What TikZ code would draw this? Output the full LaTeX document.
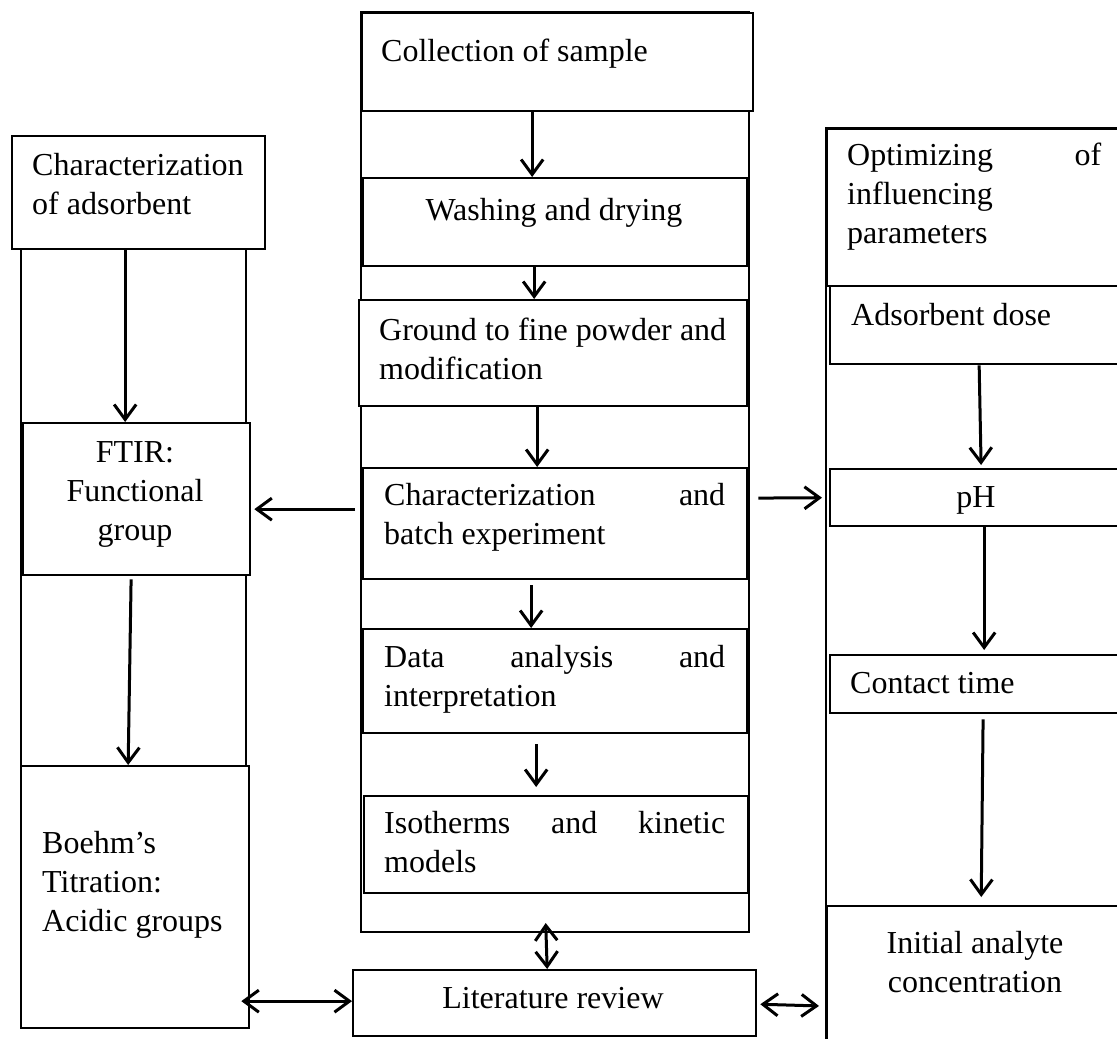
\documentclass[tikz,border=0pt]{standalone}
\usepackage{fontspec}
\setmainfont{Liberation Serif}
\usepackage{tikz}
\usetikzlibrary{arrows.meta}

\tikzset{
  box/.style = {draw, fill=white, line width=2.3pt, anchor=north west, inner sep=0pt},
  txt/.style = {anchor=base west, inner sep=0pt, align=flush left, text width=360pt, font=\fontsize{32}{39}\selectfont},
  ctxt/.style = {txt, anchor=base, align=flush center, text width=300pt},
  arr/.style = {line width=3pt, -{Straight Barb[length=15pt, width=22pt]}},
  darr/.style = {line width=3pt, {Straight Barb[length=15pt, width=22pt]}-{Straight Barb[length=15pt, width=22pt]}}
}

\begin{document}
\begin{tikzpicture}[x=1pt, y=-1pt]
  \useasboundingbox (0,0) rectangle (1117,1039);
  \clip (0,0) rectangle (1117,1039);
  % columns
  \draw [line width=2.3pt] (21,240) rectangle (246,1027);
  \draw [line width=2.3pt] (361,12) rectangle (749,932);
  \draw [line width=2.3pt] (826,128) rectangle (1140,1080);
  % left column
  \node [box, minimum width=253pt, minimum height=113pt] (charad) at (11,135) {};
  \node [box, minimum width=227pt, minimum height=152pt] (ftir) at (22,422) {};
  \node [box, minimum width=228pt, minimum height=262pt] (boehm) at (20,765) {};
  % middle column
  \node [box, minimum width=391pt, minimum height=98pt] (collect) at (361,12) {};
  \node [box, minimum width=384pt, minimum height=88pt] (wash) at (362,177) {};
  \node [box, minimum width=388pt, minimum height=106pt] (ground) at (358,299) {};
  \node [box, minimum width=384pt, minimum height=111pt] (batch) at (362,467) {};
  \node [box, minimum width=384pt, minimum height=104pt] (data) at (362,628) {};
  \node [box, minimum width=384pt, minimum height=97pt] (iso) at (363,795) {};
  \node [box, minimum width=403pt, minimum height=66pt] (lit) at (352,969) {};
  \coordinate (midcol) at (555,932);
  % right column
  \node [box, minimum width=314pt, minimum height=157pt] (optim) at (826,128) {};
  \node [box, minimum width=311pt, minimum height=78pt] (dose) at (829,285) {};
  \node [box, minimum width=311pt, minimum height=57pt] (ph) at (829,468) {};
  \node [box, minimum width=311pt, minimum height=58pt] (contact) at (829,654) {};
  \node [box, minimum width=314pt, minimum height=175pt] (initial) at (826,905) {};

  % texts
  \node [txt] (t-charad) at (32,175) {Characterization\\of adsorbent};
  \node [ctxt] (t-ftir) at (135,462) {FTIR:\\Functional\\group};
  \node [txt] (t-boehm) at (42,853) {Boehm’s\\Titration:\\Acidic groups};
  \node [txt] (t-collect) at (381,61) {Collection of sample};
  \node [ctxt] (t-wash) at (554,220) {Washing and drying};
  \node [txt] (t-ground) at (379,340) {\makebox[347pt][s]{Ground to fine powder and}\\modification};
  \node [txt] (t-batch) at (384,505) {\makebox[341pt]{Characterization\hfill and}\\batch experiment};
  \node [txt] (t-data) at (384,667) {\makebox[341pt]{Data\hfill analysis\hfill and}\\interpretation};
  \node [txt] (t-iso) at (384,833) {\makebox[341pt]{Isotherms\hfill and\hfill kinetic}\\models};
  \node [ctxt] (t-lit) at (553,1008) {Literature review};
  \node [txt] (t-optim) at (847,165) {\makebox[254pt]{Optimizing\hfill of}\\influencing\\parameters};
  \node [txt] (t-dose) at (851,325) {Adsorbent dose};
  \node [ctxt] (t-ph) at (976,507) {pH};
  \node [txt] (t-contact) at (850,693) {Contact time};
  \node [ctxt] (t-initial) at (975,953) {Initial analyte\\concentration};

  % arrows
  \draw [arr] ([xshift=-25.5pt]collect.south) -- ([xshift=-23pt]wash.north);
  \draw [arr] ([xshift=-21pt]wash.south) -- ([xshift=-19pt]ground.north);
  \draw [arr] ([xshift=-16pt]ground.south) -- ([xshift=-18pt]batch.north);
  \draw [arr, shorten <=5pt] ([xshift=-24pt]batch.south) -- ([xshift=-24pt]data.north);
  \draw [arr, shorten <=10pt, shorten >=8pt] ([xshift=-19pt]data.south) -- ([xshift=-20pt]iso.north);
  \draw [darr, shorten <=-9pt] ([xshift=-9pt]midcol) -- ([xshift=-7.5pt]lit.north);
  \draw [arr] ([xshift=-13.5pt]charad.south) -- ([xshift=-11.5pt]ftir.north);
  \draw [arr, shorten <=3pt] ([xshift=-5.5pt]ftir.south) -- ([xshift=-7pt]boehm.north);
  \draw [arr, shorten <=7pt, shorten >=3pt] ([yshift=14.5pt]batch.west) -- ([yshift=-10pt]ftir.east);
  \draw [arr, shorten <=10pt, shorten >=7pt] ([yshift=25.5pt]batch.east) -- (ph.west);
  \draw [arr, shorten >=3pt] ([xshift=-6.5pt]dose.south) -- ([xshift=-4.5pt]ph.north);
  \draw [arr, shorten >=4pt] ([xshift=-1.5pt]ph.south) -- ([xshift=-1.5pt]contact.north);
  \draw [arr, shorten <=5pt, shorten >=8pt] ([xshift=-2.5pt]contact.south) -- ([xshift=-3pt]initial.north);
  \draw [darr, shorten <=-9pt] ([yshift=-104pt]boehm.east) -- ([yshift=2pt]lit.west);
  \draw [darr, shorten <=3pt, shorten >=7pt] ([yshift=-1pt]lit.east) -- ([yshift=-12.5pt]initial.west);
\end{tikzpicture}
\end{document}
